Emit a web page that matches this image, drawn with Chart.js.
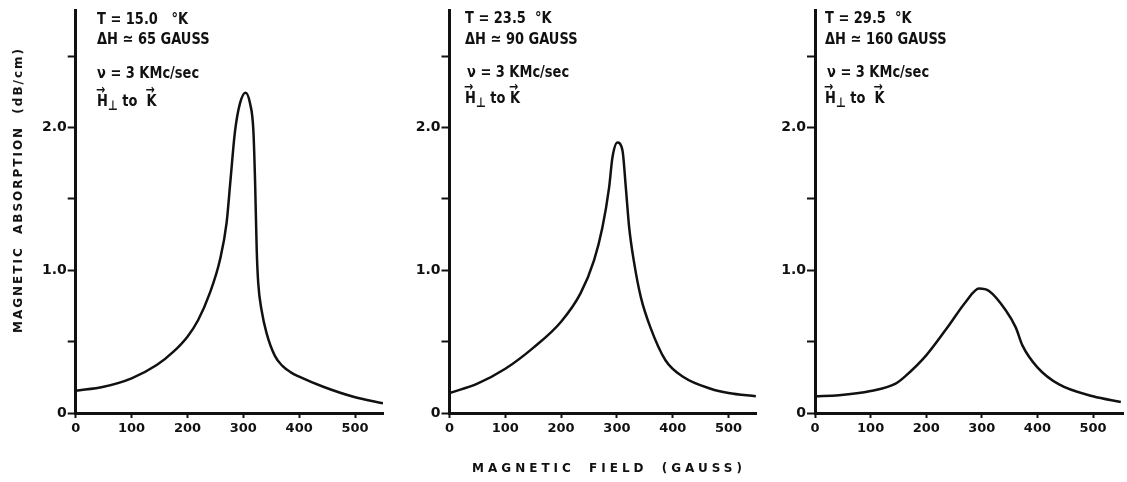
<!DOCTYPE html>
<html>
<head>
<meta charset="utf-8">
<script src="https://cdn.jsdelivr.net/npm/chart.js@4.4.1/dist/chart.umd.min.js"></script>
<style>
body { margin:0; background:#fff; width:1127px; height:482px; position:relative; overflow:hidden; font-family:'DejaVu Sans', sans-serif; font-weight:bold; color:#111; }
canvas { position:absolute; top:0; }
.note { position:absolute; font-size:13px; white-space:nowrap; line-height:16px; transform:scaleY(1.25); transform-origin:0 0; }
.vec { position:relative; display:inline-block; }
.vec::before { content:'\2192'; position:absolute; left:-1px; top:-9px; font-size:11px; }
.ttl { position:absolute; white-space:nowrap; font-size:12px; letter-spacing:2px; word-spacing:6px; transform:translate(-50%,-50%); }
</style>
</head>
<body>
<canvas id="c1" width="390" height="482" style="left:0px"></canvas>
<canvas id="c2" width="385" height="482" style="left:380px"></canvas>
<canvas id="c3" width="382" height="482" style="left:745px"></canvas>

<div class="note" style="left:97px;top:9px">T = 15.0 &nbsp;&nbsp;°K</div>
<div class="note" style="left:97px;top:29px">ΔH ≃ 65 GAUSS</div>
<div class="note" style="left:97px;top:63px">ν = 3 KMc/sec</div>
<div class="note" style="left:97px;top:91px"><span class="vec">H</span><sub>⊥</sub> to &nbsp;<span class="vec">K</span></div>

<div class="note" style="left:465px;top:8px">T = 23.5 &nbsp;°K</div>
<div class="note" style="left:465px;top:29px">ΔH ≃ 90 GAUSS</div>
<div class="note" style="left:467px;top:62px">ν = 3 KMc/sec</div>
<div class="note" style="left:465px;top:88px"><span class="vec">H</span><sub>⊥</sub> to <span class="vec">K</span></div>

<div class="note" style="left:825px;top:8px">T = 29.5 &nbsp;°K</div>
<div class="note" style="left:825px;top:29px">ΔH ≃ 160 GAUSS</div>
<div class="note" style="left:827px;top:62px">ν = 3 KMc/sec</div>
<div class="note" style="left:825px;top:88px"><span class="vec">H</span><sub>⊥</sub> to &nbsp;<span class="vec">K</span></div>

<div class="ttl" style="left:18px;top:190px;transform:translate(-50%,-50%) rotate(-90deg)">MAGNETIC ABSORPTION (dB/cm)</div>
<div class="ttl" style="left:609px;top:468px;letter-spacing:4px">MAGNETIC FIELD (GAUSS)</div>

<script>
// T = 15.0 K
const field1 = [0, 50, 100, 145, 175, 200, 219, 240, 258, 270, 277, 285, 294, 304, 312, 318, 321, 324, 326.7, 332.7, 341.6, 356.5, 370, 385, 400, 443, 497, 550];
const abs1 = [0.156, 0.184, 0.243, 0.336, 0.43, 0.535, 0.65, 0.84, 1.07, 1.33, 1.63, 1.97, 2.17, 2.245, 2.17, 1.98, 1.63, 1.14, 0.91, 0.72, 0.56, 0.40, 0.33, 0.285, 0.255, 0.184, 0.114, 0.068];
// T = 23.5 K
const field2 = [0, 50, 100, 151, 200, 235, 259, 274, 286, 292, 301, 310, 316, 322, 331, 343, 360, 387, 420, 468, 500, 549];
const abs2 = [0.14, 0.206, 0.31, 0.46, 0.64, 0.84, 1.07, 1.30, 1.58, 1.79, 1.895, 1.84, 1.58, 1.30, 1.05, 0.81, 0.60, 0.37, 0.25, 0.17, 0.14, 0.117];
// T = 29.5 K
const field3 = [0, 43, 100, 145, 163, 200, 241, 271, 295, 313, 343, 361, 373, 400, 439, 500, 550];
const abs3 = [0.117, 0.124, 0.154, 0.206, 0.26, 0.404, 0.615, 0.778, 0.872, 0.855, 0.72, 0.60, 0.474, 0.32, 0.20, 0.117, 0.077];

const yTicks = [0, 0.5, 1.0, 1.5, 2.0, 2.5];
const yLabels = ['0', '', '1.0', '', '2.0', ''];
const xTicks = [0, 100, 200, 300, 400, 500];
const xLabels = ['0', '100', '200', '300', '400', '500'];

const ink = '#111';

function points(xs, ys) {
    return xs.map((x, i) => ({x: x, y: ys[i]}));
}

function drawPanel(id, xs, ys, box) {
    var ctx = document.getElementById(id).getContext('2d');
    return new Chart(ctx, {
        type: 'line',
        data: {
            datasets: [{
                data: points(xs, ys),
                borderColor: ink,
                borderWidth: 2.5,
                pointRadius: 0,
                fill: false,
                cubicInterpolationMode: 'monotone'
            }]
        },
        options: {
            responsive: false,
            animation: false,
            devicePixelRatio: 1,
            layout: {padding: {top: box.top, right: box.right, left: 0, bottom: 0}},
            plugins: {legend: {display: false}, tooltip: {enabled: false}},
            scales: {
                x: {
                    type: 'linear', min: 0, max: box.xmax,
                    afterBuildTicks: s => { s.ticks = xTicks.map(v => ({value: v})); },
                    afterFit: s => { s.height = box.bottom; },
                    border: {color: ink, width: 3},
                    grid: {drawOnChartArea: false, tickLength: 5, tickColor: ink, tickWidth: 2},
                    ticks: {color: ink, font: {family: 'DejaVu Sans', size: 13, weight: 'bold'}, padding: 3,
                        maxRotation: 0, autoSkip: false, callback: (v, i) => xLabels[i]}
                },
                y: {
                    type: 'linear', min: 0, max: 2.82,
                    afterBuildTicks: s => { s.ticks = yTicks.map(v => ({value: v})); },
                    afterFit: s => { s.width = box.left; },
                    border: {color: ink, width: 3},
                    grid: {drawOnChartArea: false, tickLength: 8, tickColor: ink, tickWidth: 2},
                    ticks: {color: ink, font: {family: 'DejaVu Sans', size: 14, weight: 'bold'}, padding: 1,
                        autoSkip: false, callback: (v, i) => yLabels[i]}
                }
            }
        }
    });
}

drawPanel('c1', field1, abs1, {left: 75.7, top: 10.6, right: 7, bottom: 69, xmax: 550});
drawPanel('c2', field2, abs2, {left: 69.5, top: 10.6, right: 8.6, bottom: 69, xmax: 550});
drawPanel('c3', field3, abs3, {left: 70, top: 10.6, right: 3.4, bottom: 69, xmax: 555});
</script>
</body>
</html>
